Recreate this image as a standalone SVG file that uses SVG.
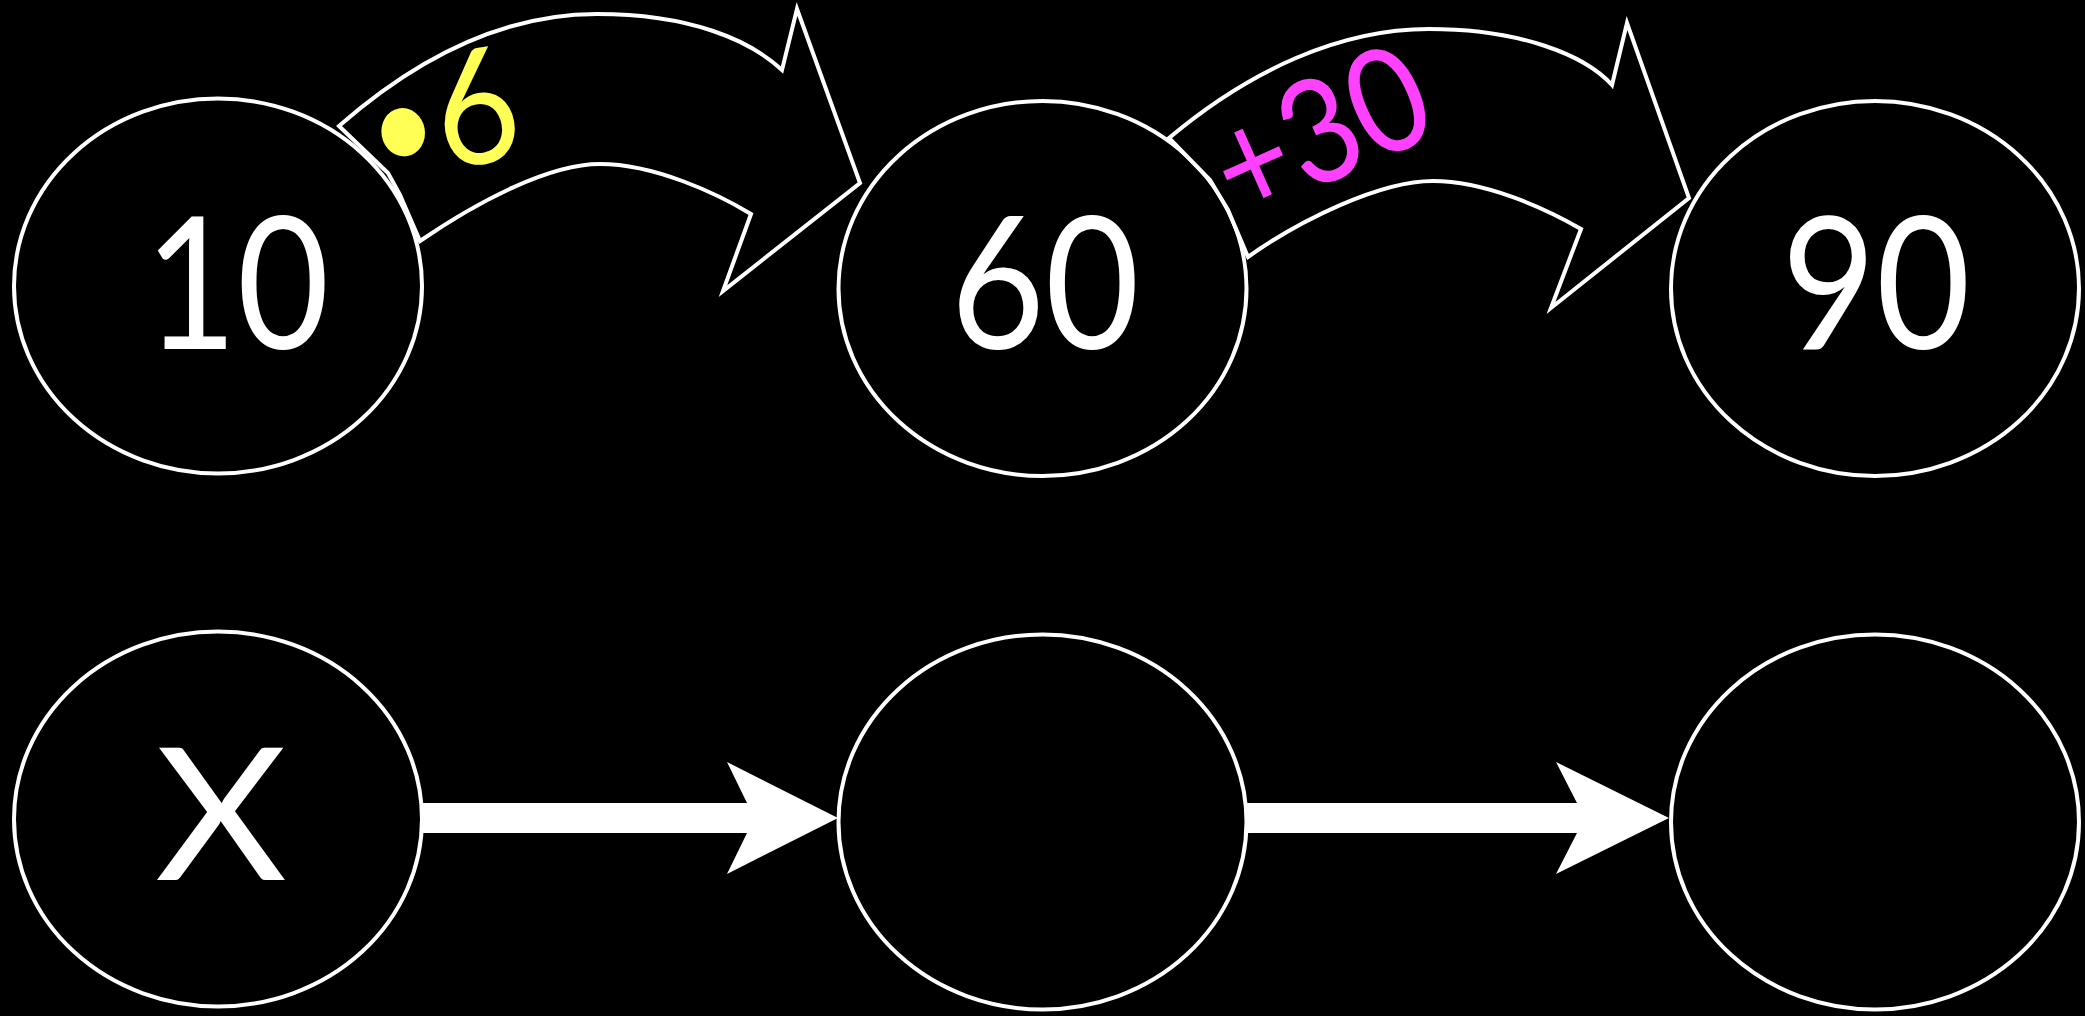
<svg xmlns="http://www.w3.org/2000/svg" width="2085" height="1016" viewBox="0 0 2085 1016">
<style>
.node{fill:#000;stroke:#fff;stroke-width:4}
.num{font-family:Lato,"Open Sans","Liberation Sans",sans-serif;font-size:185px;fill:#fff;text-anchor:middle}
.curve{fill:#000;stroke:#fff;stroke-width:4;stroke-linejoin:miter}
.block{fill:#fff;stroke:none}
.lbl{font-family:Lato,"Open Sans","Liberation Sans",sans-serif}
</style>
<rect width="2085" height="1016" fill="#000"/>
<g id="n10"><ellipse class="node" cx="218" cy="286" rx="204" ry="187.5"/><text class="num" transform="translate(237,349) scale(0.86,1)">10</text></g>
<g id="n60"><ellipse class="node" cx="1042.5" cy="288.5" rx="204" ry="187.5"/><text class="num" transform="translate(1045,349) scale(0.88,1)">60</text></g>
<g id="n90"><ellipse class="node" cx="1875" cy="288.5" rx="204" ry="187.5"/><text class="num" transform="translate(1876,349) scale(0.88,1)">90</text></g>
<g id="nX"><ellipse class="node" cx="218" cy="819" rx="204" ry="187.5"/><text class="num" transform="translate(221,880) scale(1.1,1)">X</text></g>
<g id="nB2"><ellipse class="node" cx="1042.5" cy="822" rx="204" ry="187.5"/></g>
<g id="nB3"><ellipse class="node" cx="1875" cy="822" rx="204" ry="187.5"/></g>
<g id="connectors">
<path class="curve" d="M339,126 C420,55 505,14 597,14 C690,14 750,40 782,70 L797,9 L860,183 L723,291 L751,214 C718,194 655,164 600,164 C550,164 480,200 420,241 L400,195 L388,173 Z"/>
<path class="curve" d="M1169,138 C1250,70 1340,29 1429,29 C1520,29 1585,55 1612,85 L1627,23 L1689,198 L1551,308 L1581,229 C1545,208 1485,181 1433,181 C1380,181 1300,220 1248,257 L1228,210 L1210,180 Z"/>
<polygon class="block" points="420,803 747,803 727,762 838,818 727,874 747,833 420,833"/>
<polygon class="block" points="1247,803 1577,803 1556,762 1669,818 1556,874 1577,833 1247,833"/>
<text class="lbl" transform="translate(452,169) rotate(-10) scale(0.9,1)" x="0" y="0" font-size="160" fill="#ffff55" text-anchor="middle"><tspan font-size="130" dy="-6">•</tspan><tspan dy="6">6</tspan></text>
<text class="lbl" transform="translate(1320,132) rotate(-24) scale(0.88,1)" x="0" y="50" font-size="145" fill="#ff40ff" text-anchor="middle">+30</text>
</g>
</svg>
